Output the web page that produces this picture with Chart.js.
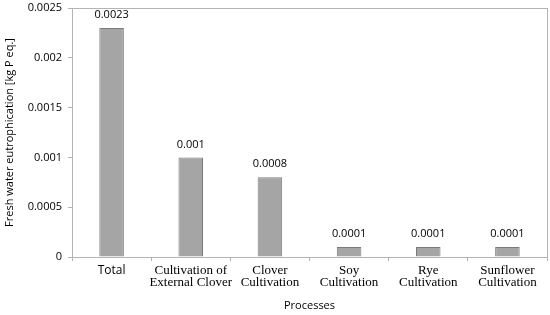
<!DOCTYPE html>
<html><head><meta charset="utf-8">
<script src="https://cdn.jsdelivr.net/npm/chart.js@4/dist/chart.umd.min.js"></script>
<style>html,body{margin:0;padding:0;background:#fff}canvas{display:block}</style>
</head><body>
<canvas id="c" width="550" height="315"></canvas>
<script>
const categories = ["Total", ["Cultivation of","External Clover"], ["Clover","Cultivation"], ["Soy","Cultivation"], ["Rye","Cultivation"], ["Sunflower","Cultivation"]];
const values = [0.0023, 0.001, 0.0008, 0.0001, 0.0001, 0.0001];
const valueLabels = ["0.0023", "0.001", "0.0008", "0.0001", "0.0001", "0.0001"];
const yTicks = [0, 0.0005, 0.001, 0.0015, 0.002, 0.0025];
const yTickLabels = ["0", "0.0005", "0.001", "0.0015", "0.002", "0.0025"];

const SANS = '"Open Sans", "DejaVu Sans", sans-serif';
const SERIF = '"Liberation Serif", "DejaVu Serif", serif';

const boxPlugin = {
  id: 'box',
  afterDraw(chart) {
    const {ctx, chartArea: a} = chart;
    ctx.save();
    ctx.strokeStyle = '#b4b4b4';
    ctx.lineWidth = 1;
    ctx.strokeRect(Math.round(a.left)+0.5, Math.round(a.top)+0.5, Math.round(a.right-a.left), Math.round(a.bottom-a.top));
    const meta = chart.getDatasetMeta(0);
    ctx.fillStyle = '#000';
    ctx.font = '11px ' + SANS;
    ctx.textAlign = 'center';
    ctx.textBaseline = 'middle';
    meta.data.forEach((bar, i) => {
      ctx.fillText(valueLabels[i], bar.x, bar.y - 13);
    });
    ctx.restore();
  }
};

new Chart(document.getElementById('c'), {
  type: 'bar',
  data: {
    labels: categories,
    datasets: [{
      data: values,
      backgroundColor: '#a5a5a5',
      borderColor: '#7a7a7a',
      borderWidth: 1,
      borderSkipped: 'bottom',
      categoryPercentage: 1,
      barPercentage: 0.31
    }]
  },
  options: {
    responsive: false,
    animation: false,
    layout: {padding: {top: 8, right: 3, left: 0, bottom: 0}},
    plugins: {legend: {display: false}, tooltip: {enabled: false}},
    scales: {
      x: {
        offset: true,
        grid: {offset: true, drawOnChartArea: false, color: '#b4b4b4', tickLength: 4},
        border: {color: '#b4b4b4'},
        ticks: {color: '#000',
          font: (c) => (c.index === 0 ? {family: SANS, size: 12, lineHeight: 0.9} : {family: SERIF, size: 13, lineHeight: 0.9}),
          padding: 4, maxRotation: 0, autoSkip: false},
        title: {display: true, text: 'Processes', color: '#000', font: {family: SANS, size: 11}, padding: {top: 8, bottom: 3}},
        afterFit(s) { s.height = 58; s.paddingLeft = 0; s.paddingRight = 0; }
      },
      y: {
        min: 0, max: 0.0025,
        afterBuildTicks(s) { s.ticks = yTicks.map(v => ({value: v})); },
        grid: {drawOnChartArea: false, color: '#b4b4b4', tickLength: 4},
        border: {color: '#b4b4b4'},
        ticks: {color: '#000', font: {family: SANS, size: 11}, padding: 6,
          callback(v, i) { return yTickLabels[i]; }},
        title: {display: true, text: 'Fresh water eutrophication [kg P eq.]', color: '#000', font: {family: SANS, size: 11}, padding: {top: 3, bottom: 2}},
        afterFit(s) { s.width = 72; s.paddingTop = 0; s.paddingBottom = 0; }
      }
    }
  },
  plugins: [boxPlugin]
});
</script>
</body></html>
